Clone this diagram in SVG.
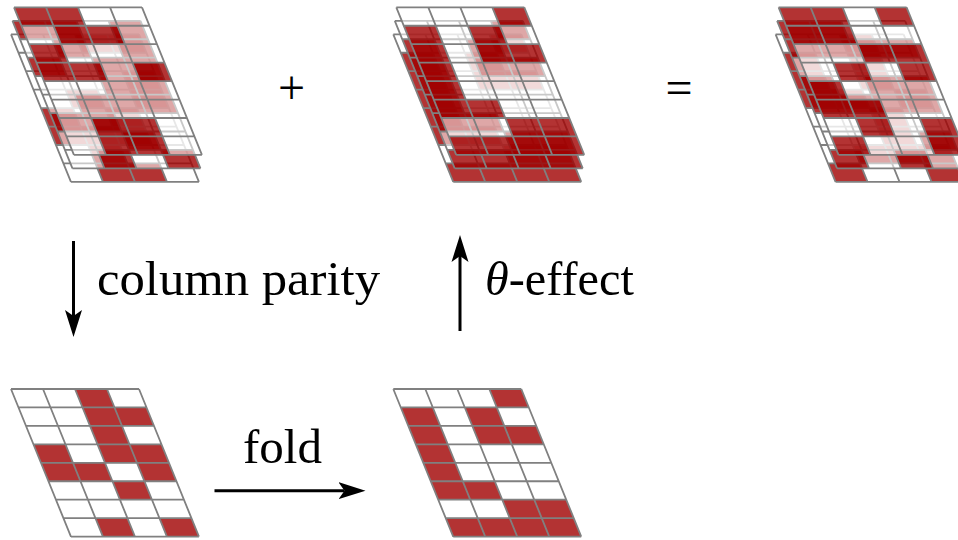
<svg xmlns="http://www.w3.org/2000/svg" width="958" height="540" viewBox="0 0 958 540">
<style>
.k{fill:#a00000;fill-opacity:.8}
.w{fill:#fff;fill-opacity:.57}
rect{width:32px;height:18.45px}
.g{fill:none;stroke:#808080;stroke-width:1.8;vector-effect:non-scaling-stroke}
text{font-family:"Liberation Serif","Times New Roman",serif;font-size:48px;fill:#000}
.a{fill:none;stroke:#000;stroke-width:3;marker-end:url(#h)}
</style>
<defs>
<marker id="h" markerUnits="userSpaceOnUse" markerWidth="30" markerHeight="20" refX="6" refY="9" orient="auto"><path d="M0 .5L27 9L0 17.5L6 9z" fill="#000"/></marker>
<path id="grid" class="g" d="M0 0H128M0 18.45H128M0 36.9H128M0 55.35H128M0 73.8H128M0 92.25H128M0 110.7H128M0 129.15H128M0 147.6H128M0 0V147.6M32 0V147.6M64 0V147.6M96 0V147.6M128 0V147.6"/>
<g id="a0000"><rect class="w"/><rect class="w" x="32"/><rect class="w" x="64"/><rect class="w" x="96"/></g>
<g id="a0001"><rect class="w"/><rect class="w" x="32"/><rect class="w" x="64"/><rect class="k" x="96"/></g>
<g id="a0010"><rect class="w"/><rect class="w" x="32"/><rect class="k" x="64"/><rect class="w" x="96"/></g>
<g id="a0011"><rect class="w"/><rect class="w" x="32"/><rect class="k" x="64"/><rect class="k" x="96"/></g>
<g id="a0100"><rect class="w"/><rect class="k" x="32"/><rect class="w" x="64"/><rect class="w" x="96"/></g>
<g id="a0101"><rect class="w"/><rect class="k" x="32"/><rect class="w" x="64"/><rect class="k" x="96"/></g>
<g id="a0110"><rect class="w"/><rect class="k" x="32"/><rect class="k" x="64"/><rect class="w" x="96"/></g>
<g id="a0111"><rect class="w"/><rect class="k" x="32"/><rect class="k" x="64"/><rect class="k" x="96"/></g>
<g id="a1000"><rect class="k"/><rect class="w" x="32"/><rect class="w" x="64"/><rect class="w" x="96"/></g>
<g id="a1001"><rect class="k"/><rect class="w" x="32"/><rect class="w" x="64"/><rect class="k" x="96"/></g>
<g id="a1010"><rect class="k"/><rect class="w" x="32"/><rect class="k" x="64"/><rect class="w" x="96"/></g>
<g id="a1011"><rect class="k"/><rect class="w" x="32"/><rect class="k" x="64"/><rect class="k" x="96"/></g>
<g id="a1100"><rect class="k"/><rect class="k" x="32"/><rect class="w" x="64"/><rect class="w" x="96"/></g>
<g id="a1101"><rect class="k"/><rect class="k" x="32"/><rect class="w" x="64"/><rect class="k" x="96"/></g>
<g id="a1110"><rect class="k"/><rect class="k" x="32"/><rect class="k" x="64"/><rect class="w" x="96"/></g>
<g id="a1111"><rect class="k"/><rect class="k" x="32"/><rect class="k" x="64"/><rect class="k" x="96"/></g>
<g id="E"><use href="#a0001"/><use href="#a1010" y="18.45"/><use href="#a1011" y="36.9"/><use href="#a1000" y="55.35"/><use href="#a1000" y="73.8"/><use href="#a1100" y="92.25"/><use href="#a0011" y="110.7"/><use href="#a1111" y="129.15"/><use href="#grid"/></g>
<g id="F"><use href="#a1100"/><use href="#a0110" y="18.45"/><use href="#a1000" y="36.9"/><use href="#a1101" y="55.35"/><use href="#a0000" y="73.8"/><use href="#a0000" y="92.25"/><use href="#a0110" y="110.7"/><use href="#a0110" y="129.15"/><use href="#grid"/></g>
<g id="M"><use href="#a1101"/><use href="#a0101" y="18.45"/><use href="#a1011" y="36.9"/><use href="#a0011" y="55.35"/><use href="#a0111" y="73.8"/><use href="#a1100" y="92.25"/><use href="#a0010" y="110.7"/><use href="#a0101" y="129.15"/><use href="#grid"/></g>
<g id="B"><use href="#a0011"/><use href="#a0000" y="18.45"/><use href="#a0001" y="36.9"/><use href="#a0101" y="55.35"/><use href="#a1010" y="73.8"/><use href="#a1110" y="92.25"/><use href="#a0100" y="110.7"/><use href="#a0110" y="129.15"/><use href="#grid"/></g>
<g id="RF"><use href="#a1101"/><use href="#a1100" y="18.45"/><use href="#a0011" y="36.9"/><use href="#a0101" y="55.35"/><use href="#a1000" y="73.8"/><use href="#a1100" y="92.25"/><use href="#a0101" y="110.7"/><use href="#a1001" y="129.15"/><use href="#grid"/></g>
<g id="RM"><use href="#a1100"/><use href="#a1111" y="18.45"/><use href="#a0000" y="36.9"/><use href="#a1011" y="55.35"/><use href="#a1111" y="73.8"/><use href="#a0000" y="92.25"/><use href="#a0001" y="110.7"/><use href="#a1010" y="129.15"/><use href="#grid"/></g>
<g id="RB"><use href="#a0010"/><use href="#a1010" y="18.45"/><use href="#a1010" y="36.9"/><use href="#a1101" y="55.35"/><use href="#a0010" y="73.8"/><use href="#a0010" y="92.25"/><use href="#a0111" y="110.7"/><use href="#a1001" y="129.15"/><use href="#grid"/></g>
<g id="P"><use href="#a0010"/><use href="#a0011" y="18.45"/><use href="#a0010" y="36.9"/><use href="#a1011" y="55.35"/><use href="#a1101" y="73.8"/><use href="#a0010" y="92.25"/><use href="#a0000" y="110.7"/><use href="#a0101" y="129.15"/><use href="#grid"/></g>
</defs>
<g id="state-a">
<use href="#B" transform="matrix(1 0 .406 1 11 34.3)"/>
<use href="#M" transform="matrix(1 0 .406 1 12.5 20.8)"/>
<use href="#F" transform="matrix(1 0 .406 1 14 7.3)"/>
</g>
<g id="state-b">
<use href="#E" transform="matrix(1 0 .406 1 393.3 34.3)"/>
<use href="#E" transform="matrix(1 0 .406 1 394.8 20.8)"/>
<use href="#E" transform="matrix(1 0 .406 1 396.3 7.3)"/>
</g>
<g id="state-c">
<use href="#RB" transform="matrix(1 0 .406 1 775.6 34.3)"/>
<use href="#RM" transform="matrix(1 0 .406 1 777.1 20.8)"/>
<use href="#RF" transform="matrix(1 0 .406 1 778.6 7.3)"/>
</g>
<g id="parity"><use href="#P" transform="matrix(1 0 .406 1 11 389)"/></g>
<g id="effect"><use href="#E" transform="matrix(1 0 .406 1 393.3 389)"/></g>
<g id="operators">
<text x="291.5" y="104" text-anchor="middle">+</text>
<text x="679" y="104" text-anchor="middle">=</text>
</g>
<g id="connectors">
<path class="a" d="M73.5 241V316"/>
<path class="a" d="M460 331V256"/>
<path class="a" d="M214.5 490.7H344.5"/>
</g>
<g id="labels">
<text x="97" y="295" textLength="283" lengthAdjust="spacingAndGlyphs">column parity</text>
<text x="485" y="295" textLength="149" lengthAdjust="spacingAndGlyphs"><tspan font-style="italic">θ</tspan>-effect</text>
<text x="243" y="463" textLength="79" lengthAdjust="spacingAndGlyphs">fold</text>
</g>
</svg>
